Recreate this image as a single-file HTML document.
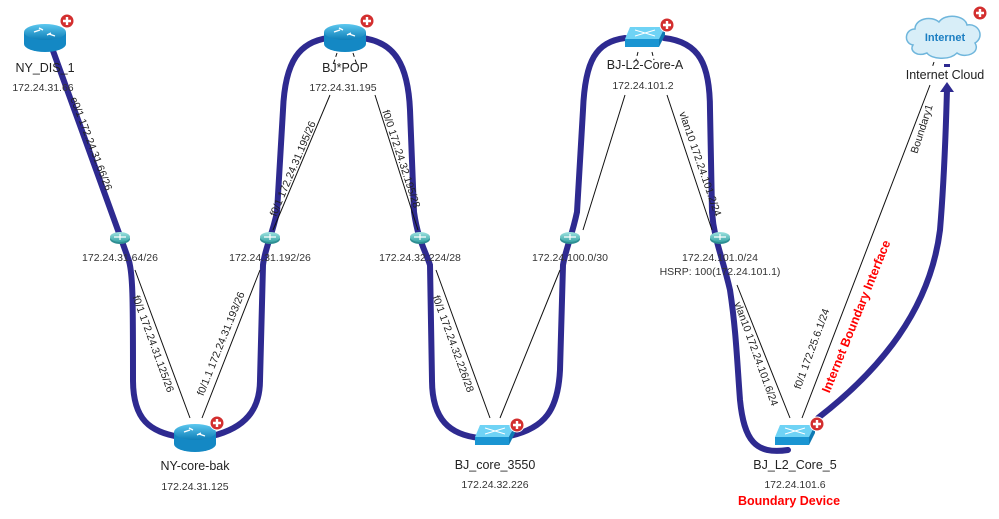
<!DOCTYPE html>
<html><head><meta charset="utf-8"><style>
html,body{margin:0;padding:0;background:#fff;}
svg{display:block;font-family:"Liberation Sans",sans-serif;}
.n{font-size:12.5px;fill:#222;text-anchor:middle}
.ip{font-size:10.5px;fill:#333;text-anchor:middle}
.l{font-size:10.5px;fill:#222;text-anchor:middle}
.thick{fill:none;stroke:#2e2a90;stroke-width:6;stroke-linecap:round}
.thin{stroke:#111;stroke-width:1;fill:none}
</style></head><body>
<svg width="999" height="519" viewBox="0 0 999 519">
<defs>
<linearGradient id="rg" x1="0" y1="0" x2="0" y2="1"><stop offset="0" stop-color="#5cc8ef"/><stop offset="1" stop-color="#0f7fb8"/></linearGradient>
<linearGradient id="hg" x1="0" y1="0" x2="0" y2="1"><stop offset="0" stop-color="#9fe3e0"/><stop offset="1" stop-color="#3aa6a8"/></linearGradient>
<g id="router">
<path d="M-21,-5 L-21,7 A21,8 0 0 0 21,7 L21,-5 Z" fill="#1488c4"/>
<ellipse cx="0" cy="-5" rx="21" ry="8" fill="url(#rg)"/>
<path d="M-11,-5 l6,-2 M4,-3 l6,2 M-6,-9 l4,2 M2,-2 l4,-2" stroke="#fff" stroke-width="1.3"/>
</g>
<g id="switch">
<path d="M-15,-10 L20,-10 L14,2 L-20,2 Z" fill="#6fd3f5"/>
<path d="M-20,2 L14,2 L14,10 L-20,10 Z" fill="#1a95d2"/>
<path d="M14,2 L20,-10 L20,-2 L14,10 Z" fill="#0f7ab3"/>
<path d="M-10,-7 L10,-1 M-10,-1 L10,-7" stroke="#fff" stroke-width="1"/>
</g>
<g id="hub">
<ellipse cx="0" cy="2" rx="10" ry="5" fill="#2e8e92"/>
<ellipse cx="0" cy="0" rx="10" ry="5" fill="url(#hg)"/>
<path d="M-6,0 h12 M0,-3 v6" stroke="#fff" stroke-width="1.2"/>
</g>
<g id="plus">
<circle r="7" fill="#d32f2f" stroke="#fff" stroke-width="1"/>
<path d="M-4,0 h8 M0,-4 v8" stroke="#fff" stroke-width="2.4"/>
</g>
</defs>

<!-- thick lines -->
<path class="thick" d="M52,48 L128,258 C133,270 133,300 133,380 C133,420 150,432 180,437"/>
<path class="thick" d="M212,436 C245,428 260,410 260,380 L263,265 C265,248 272,236 277,212 L283,110 C285,60 300,42 328,38"/>
<path class="thick" d="M362,38 C395,42 408,65 410,110 L414,212 C418,240 425,250 430,265 L432,380 C432,420 450,435 480,438"/>
<path class="thick" d="M510,436 C545,428 558,410 560,370 L563,265 C566,248 572,236 577,212 L583,110 C585,60 596,42 625,38"/>
<path class="thick" d="M664,38 C700,42 710,65 710,110 L712,212 C714,240 722,255 730,290 C736,330 737,360 740,400 C744,440 755,455 788,450"/>
<path class="thick" d="M818,418 C880,370 930,310 940,230 C945,170 946,120 947,90"/>
<path d="M940,92 L947,82 L954,92 Z" fill="#2e2a90"/>
<rect x="944" y="64" width="6" height="3" fill="#2e2a90"/>

<!-- thin lines -->
<path class="thin" d="M330,95 L273,230 M375,95 L418,230 M190,418 L135,270 M202,418 L260,270 M490,418 L436,270 M500,418 L560,270 M625,95 L583,230 M667,95 L712,230 M790,418 L737,285 M802,418 L930,85"/>
<path class="thin" stroke-dasharray="4,3" d="M337,53 L333,65 M353,53 L357,65 M638,52 L636,60 M652,52 L654,60 M934,62 L932,68"/>

<!-- rotated labels -->
<text class="l" transform="translate(88,145) rotate(69)">e0/1 172.24.31.66/26</text>
<text class="l" transform="translate(296,170) rotate(-67)">f0/1 172.24.31.195/26</text>
<text class="l" transform="translate(398,160) rotate(72)">f0/0 172.24.32.195/28</text>
<text class="l" transform="translate(150,345) rotate(70)">f0/1 172.24.31.125/26</text>
<text class="l" transform="translate(224,345) rotate(-68)">f0/1.1 172.24.31.193/26</text>
<text class="l" transform="translate(450,345) rotate(70)">f0/1 172.24.32.226/28</text>
<text class="l" transform="translate(697,165) rotate(71)">vlan10 172.24.101.2/24</text>
<text class="l" transform="translate(753,355) rotate(70)">vlan10 172.24.101.6/24</text>
<text class="l" transform="translate(815,350) rotate(-70)">f0/1 172.25.6.1/24</text>
<text class="l" transform="translate(925,130) rotate(-72)">Boundary1</text>
<text transform="translate(860,318) rotate(-68)" font-size="12.5" font-weight="bold" fill="#f00" text-anchor="middle">Internet Boundary Interface</text>

<!-- hubs -->
<use href="#hub" x="120" y="237"/><use href="#hub" x="270" y="237"/><use href="#hub" x="420" y="237"/><use href="#hub" x="570" y="237"/><use href="#hub" x="720" y="237"/>
<text class="ip" x="120" y="261">172.24.31.64/26</text>
<text class="ip" x="270" y="261">172.24.31.192/26</text>
<text class="ip" x="420" y="261">172.24.32.224/28</text>
<text class="ip" x="570" y="261">172.24.100.0/30</text>
<text class="ip" x="720" y="261">172.24.101.0/24</text>
<text class="ip" x="720" y="275">HSRP: 100(172.24.101.1)</text>

<!-- nodes -->
<use href="#router" x="45" y="37"/><use href="#plus" x="67" y="21"/>
<text class="n" x="45" y="72">NY_DIS_1</text><text class="ip" x="43" y="91">172.24.31.66</text>
<use href="#router" x="345" y="37"/><use href="#plus" x="367" y="21"/>
<text class="n" x="345" y="72">BJ*POP</text><text class="ip" x="343" y="91">172.24.31.195</text>
<use href="#switch" x="645" y="37"/><use href="#plus" x="667" y="25"/>
<text class="n" x="645" y="69">BJ-L2-Core-A</text><text class="ip" x="643" y="89">172.24.101.2</text>
<g transform="translate(945,37)">
<path d="M-32,8 C-42,6 -40,-8 -30,-8 C-30,-18 -14,-22 -6,-15 C0,-24 20,-22 22,-12 C34,-14 40,0 30,6 C36,16 20,22 12,16 C4,24 -14,22 -18,16 C-28,20 -36,14 -32,8 Z" fill="#d8eef8" stroke="#6fb6dc" stroke-width="1.5"/>
<text x="0" y="4" font-size="11" font-weight="bold" fill="#1b7ec2" text-anchor="middle">Internet</text>
</g>
<use href="#plus" x="980" y="13"/>
<text class="n" x="945" y="79">Internet Cloud</text>

<use href="#router" x="195" y="437"/><use href="#plus" x="217" y="423"/>
<text class="n" x="195" y="470">NY-core-bak</text><text class="ip" x="195" y="490">172.24.31.125</text>
<use href="#switch" x="495" y="435"/><use href="#plus" x="517" y="425"/>
<text class="n" x="495" y="469">BJ_core_3550</text><text class="ip" x="495" y="488">172.24.32.226</text>
<use href="#switch" x="795" y="435"/><use href="#plus" x="817" y="424"/>
<text class="n" x="795" y="469">BJ_L2_Core_5</text><text class="ip" x="795" y="488">172.24.101.6</text>
<text x="789" y="505" font-size="12.5" font-weight="bold" fill="#f00" text-anchor="middle">Boundary Device</text>
</svg>
</body></html>
